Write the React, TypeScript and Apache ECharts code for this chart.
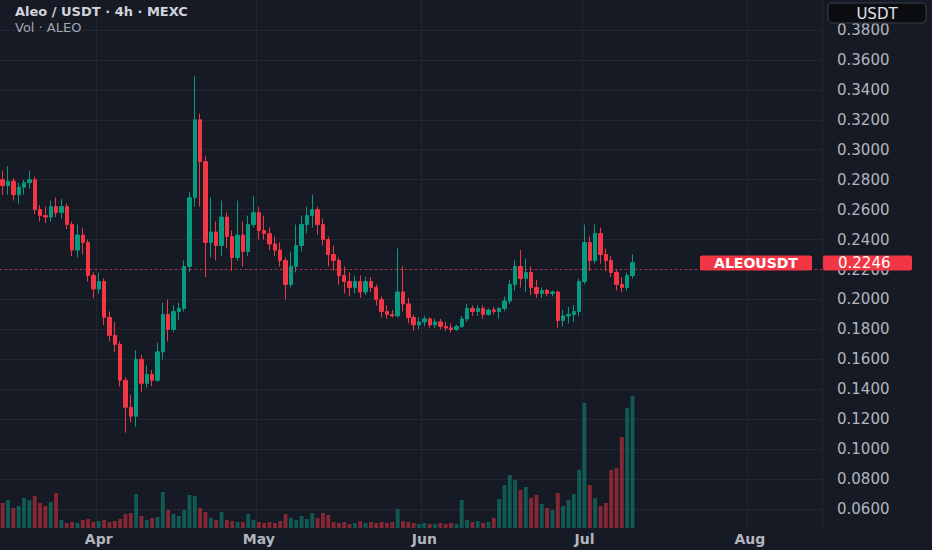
import React, { useEffect, useRef } from 'react';
import * as echarts from 'echarts';

// daily candles, 14 Mar -> 10 Jul, axis runs on to 14 Aug
const firstDay = Date.UTC(2025, 2, 14);
const dayCount = 154;
const monthNames = ['Jan', 'Feb', 'Mar', 'Apr', 'May', 'Jun', 'Jul', 'Aug', 'Sep', 'Oct', 'Nov', 'Dec'];
const priceTicks = { min: 0.04, max: 0.4, step: 0.02 };

const opens = [
  0.280, 0.276, 0.279, 0.270, 0.275, 0.278, 0.280, 0.260, 0.256, 0.255,
  0.262, 0.258, 0.262, 0.250, 0.233, 0.243, 0.238, 0.216, 0.207, 0.212,
  0.188, 0.176, 0.170, 0.146, 0.128, 0.122, 0.160, 0.144, 0.150, 0.146,
  0.165, 0.190, 0.180, 0.192, 0.194, 0.222, 0.268, 0.320, 0.292, 0.238,
  0.245, 0.236, 0.255, 0.242, 0.228, 0.243, 0.232, 0.250, 0.258, 0.246,
  0.244, 0.237, 0.233, 0.226, 0.210, 0.222, 0.236, 0.250, 0.256, 0.260,
  0.250, 0.240, 0.230, 0.226, 0.216, 0.212, 0.208, 0.212, 0.205, 0.212,
  0.208, 0.200, 0.192, 0.190, 0.189, 0.205, 0.197, 0.188, 0.183, 0.185,
  0.187, 0.183, 0.185, 0.182, 0.181, 0.180, 0.182, 0.187, 0.194, 0.192,
  0.194, 0.190, 0.193, 0.192, 0.194, 0.199, 0.210, 0.222, 0.214, 0.218,
  0.208, 0.204, 0.206, 0.204, 0.205, 0.186, 0.189, 0.190, 0.192, 0.212,
  0.238, 0.226, 0.244, 0.230, 0.226, 0.218, 0.210, 0.208, 0.216,
];
const highs = [
  0.286, 0.289, 0.281, 0.278, 0.280, 0.286, 0.282, 0.263, 0.262, 0.266,
  0.268, 0.267, 0.264, 0.252, 0.250, 0.248, 0.240, 0.218, 0.218, 0.214,
  0.192, 0.185, 0.172, 0.148, 0.136, 0.166, 0.163, 0.156, 0.153, 0.171,
  0.198, 0.200, 0.196, 0.198, 0.226, 0.272, 0.349, 0.324, 0.296, 0.268,
  0.252, 0.266, 0.258, 0.246, 0.266, 0.252, 0.256, 0.269, 0.262, 0.256,
  0.248, 0.242, 0.238, 0.228, 0.232, 0.250, 0.256, 0.262, 0.270, 0.262,
  0.254, 0.242, 0.236, 0.228, 0.222, 0.218, 0.216, 0.216, 0.215, 0.215,
  0.210, 0.202, 0.196, 0.193, 0.234, 0.222, 0.201, 0.190, 0.188, 0.189,
  0.188, 0.187, 0.187, 0.185, 0.184, 0.183, 0.189, 0.197, 0.196, 0.196,
  0.196, 0.194, 0.195, 0.195, 0.202, 0.213, 0.226, 0.233, 0.227, 0.222,
  0.213, 0.208, 0.207, 0.206, 0.206, 0.193, 0.195, 0.196, 0.214, 0.250,
  0.242, 0.250, 0.248, 0.234, 0.229, 0.220, 0.215, 0.218, 0.230,
];
const lows = [
  0.270, 0.270, 0.266, 0.264, 0.270, 0.274, 0.257, 0.252, 0.251, 0.252,
  0.255, 0.254, 0.247, 0.229, 0.228, 0.230, 0.212, 0.201, 0.204, 0.183,
  0.172, 0.165, 0.142, 0.111, 0.118, 0.115, 0.138, 0.141, 0.142, 0.145,
  0.160, 0.172, 0.178, 0.186, 0.192, 0.218, 0.262, 0.262, 0.215, 0.228,
  0.226, 0.229, 0.234, 0.219, 0.226, 0.222, 0.229, 0.248, 0.240, 0.240,
  0.233, 0.229, 0.222, 0.200, 0.208, 0.218, 0.232, 0.244, 0.248, 0.243,
  0.236, 0.222, 0.219, 0.210, 0.204, 0.202, 0.204, 0.201, 0.203, 0.205,
  0.196, 0.188, 0.187, 0.188, 0.188, 0.192, 0.184, 0.179, 0.180, 0.182,
  0.181, 0.181, 0.180, 0.179, 0.178, 0.179, 0.181, 0.185, 0.189, 0.189,
  0.187, 0.189, 0.190, 0.187, 0.192, 0.197, 0.206, 0.208, 0.205, 0.203,
  0.201, 0.201, 0.202, 0.202, 0.181, 0.182, 0.184, 0.185, 0.189, 0.210,
  0.219, 0.224, 0.224, 0.219, 0.215, 0.206, 0.205, 0.206, 0.214,
];
const closes = [
  0.276, 0.279, 0.270, 0.275, 0.278, 0.280, 0.260, 0.256, 0.255, 0.262,
  0.258, 0.262, 0.250, 0.233, 0.243, 0.238, 0.216, 0.207, 0.212, 0.188,
  0.176, 0.170, 0.146, 0.128, 0.122, 0.160, 0.144, 0.150, 0.146, 0.165,
  0.190, 0.180, 0.192, 0.194, 0.222, 0.268, 0.320, 0.292, 0.238, 0.245,
  0.236, 0.255, 0.242, 0.228, 0.243, 0.232, 0.250, 0.258, 0.246, 0.244,
  0.237, 0.233, 0.226, 0.210, 0.222, 0.236, 0.250, 0.256, 0.260, 0.250,
  0.240, 0.230, 0.226, 0.216, 0.212, 0.208, 0.212, 0.205, 0.212, 0.208,
  0.200, 0.192, 0.190, 0.189, 0.205, 0.197, 0.188, 0.183, 0.185, 0.187,
  0.183, 0.185, 0.182, 0.181, 0.180, 0.182, 0.187, 0.194, 0.192, 0.194,
  0.190, 0.193, 0.192, 0.194, 0.199, 0.210, 0.222, 0.214, 0.218, 0.208,
  0.204, 0.206, 0.204, 0.205, 0.186, 0.189, 0.190, 0.192, 0.212, 0.238,
  0.226, 0.244, 0.230, 0.226, 0.218, 0.210, 0.208, 0.216, 0.2246,
];
// volume, thousand ALEO
const volumes = [
  25, 28, 20, 22, 30, 28, 32, 25, 22, 26,
  35, 8, 5, 6, 5, 8, 9, 6, 7, 8,
  6, 7, 9, 14, 15, 34, 12, 8, 10, 11,
  36, 18, 14, 12, 18, 33, 32, 20, 16, 10,
  8, 16, 8, 7, 6, 6, 14, 8, 6, 5,
  6, 5, 7, 14, 10, 8, 12, 9, 15, 10,
  15, 13, 6, 5, 6, 4, 5, 7, 5, 6,
  5, 6, 5, 6, 19, 7, 6, 5, 4, 5,
  4, 4, 5, 4, 5, 4, 28, 8, 6, 7,
  5, 6, 10, 29, 43, 53, 48, 38, 41, 30,
  33, 24, 20, 18, 35, 22, 28, 34, 58, 125,
  43, 30, 22, 25, 58, 60, 91, 120, 132,
];

const lastPrice = closes[closes.length - 1];
const font = '"DejaVu Sans", sans-serif';
const bg = '#161a25';
const gridColor = '#232632';
const upColor = '#089981';
const downColor = '#f23645';

const buildDays = () => {
  const days: string[] = [];
  for (let i = 0; i < dayCount; i++) {
    days.push(new Date(firstDay + i * 86400000).toISOString().slice(0, 10));
  }
  return days;
};

const App: React.FC = () => {
  const chartRef = useRef<HTMLDivElement>(null);

  useEffect(() => {
    if (!chartRef.current) return;
    const chart = echarts.init(chartRef.current, undefined, { renderer: 'svg' });
    const days = buildDays();
    const isMonthStart = (_: number, value: string) => value.slice(8) === '01';

    const candles = opens.map((o, i) => [o, closes[i], lows[i], highs[i]]);
    const tickCount = Math.round((priceTicks.max - priceTicks.min) / priceTicks.step) + 1;
    const hLineColors = Array.from({ length: tickCount }, (_, i) =>
      i === 0 || i === tickCount - 1 ? 'transparent' : gridColor
    );

    chart.setOption({
      animation: false,
      backgroundColor: bg,
      grid: [
        { left: 0, right: 110, top: -1, height: 540 },
        { left: 0, right: 110, top: 0, height: 528 },
      ],
      xAxis: [
        { type: 'category', gridIndex: 0, data: days, show: false },
        {
          type: 'category',
          gridIndex: 1,
          data: days,
          axisLine: { show: false },
          axisTick: { show: false },
          axisLabel: {
            interval: isMonthStart,
            formatter: (v: string) => monthNames[parseInt(v.slice(5, 7), 10) - 1],
            color: '#b2b5be',
            fontFamily: font,
            fontWeight: 'bold',
            fontSize: 14,
            margin: 4,
          },
          splitLine: { show: true, interval: isMonthStart, lineStyle: { color: gridColor, width: 1 } },
        },
      ],
      yAxis: [
        {
          type: 'value',
          gridIndex: 0,
          position: 'right',
          min: priceTicks.min,
          max: priceTicks.max,
          interval: priceTicks.step,
          axisLine: { show: false },
          axisTick: { show: false },
          axisLabel: {
            showMinLabel: false,
            showMaxLabel: false,
            formatter: (v: number) => v.toFixed(4),
            color: '#b2b5be',
            fontFamily: font,
            fontSize: 15,
            align: 'left',
            margin: 15,
          },
          splitLine: { show: true, lineStyle: { color: hLineColors, width: 1 } },
        },
        { type: 'value', gridIndex: 1, min: 0, max: 528, show: false },
      ],
      series: [
        {
          type: 'bar',
          xAxisIndex: 1,
          yAxisIndex: 1,
          barWidth: '72%',
          data: volumes.map((v, i) => ({
            value: v,
            itemStyle: {
              color: closes[i] >= opens[i] ? 'rgba(8,153,129,0.5)' : 'rgba(242,54,69,0.5)',
            },
          })),
        },
        {
          type: 'candlestick',
          xAxisIndex: 0,
          yAxisIndex: 0,
          barWidth: '72%',
          data: candles,
          itemStyle: {
            color: upColor,
            color0: downColor,
            borderColor: upColor,
            borderColor0: downColor,
            borderWidth: 1,
          },
          markLine: {
            silent: true,
            symbol: 'none',
            label: { show: false },
            lineStyle: { color: 'rgba(242,54,69,0.75)', type: [2, 3], width: 1 },
            data: [{ yAxis: lastPrice }],
          },
        },
      ],
    });

    const py = chart.convertToPixel({ yAxisIndex: 0 }, lastPrice) as number;

    chart.setOption({
      graphic: [
        {
          type: 'text',
          x: 15,
          y: 11.5,
          z: 100,
          style: { text: 'Aleo / USDT · 4h · MEXC', fill: '#d1d4dc', font: `bold 13px ${font}`, verticalAlign: 'middle' },
        },
        {
          type: 'text',
          x: 15,
          y: 27.5,
          z: 100,
          style: { text: 'Vol · ALEO', fill: '#a3a6af', font: `13px ${font}`, verticalAlign: 'middle' },
        },
        {
          type: 'rect',
          z: 100,
          shape: { x: 828, y: 3, width: 98, height: 20, r: 4 },
          style: { fill: '#0c0d11', stroke: '#3a3e4a', lineWidth: 1 },
        },
        {
          type: 'text',
          x: 877,
          y: 13.5,
          z: 101,
          style: { text: 'USDT', fill: '#e0e3eb', font: `15px ${font}`, align: 'center', verticalAlign: 'middle' },
        },
        {
          type: 'rect',
          z: 100,
          shape: { x: 700, y: py - 7, width: 112, height: 15, r: 2 },
          style: { fill: downColor },
        },
        {
          type: 'text',
          x: 756,
          y: py + 0.5,
          z: 101,
          style: { text: 'ALEOUSDT', fill: '#ffffff', font: `bold 14px ${font}`, align: 'center', verticalAlign: 'middle' },
        },
        {
          type: 'rect',
          z: 100,
          shape: { x: 823, y: py - 7, width: 89, height: 15, r: 2 },
          style: { fill: downColor },
        },
        {
          type: 'text',
          x: 838,
          y: py + 0.5,
          z: 101,
          style: { text: lastPrice.toFixed(4), fill: '#ffffff', font: `15px ${font}`, verticalAlign: 'middle' },
        },
      ],
    });

    return () => {
      chart.dispose();
    };
  }, []);

  return (
    <div
      ref={chartRef}
      style={{ position: 'fixed', left: 0, top: 0, width: '932px', height: '550px' }}
    />
  );
};

export default App;
